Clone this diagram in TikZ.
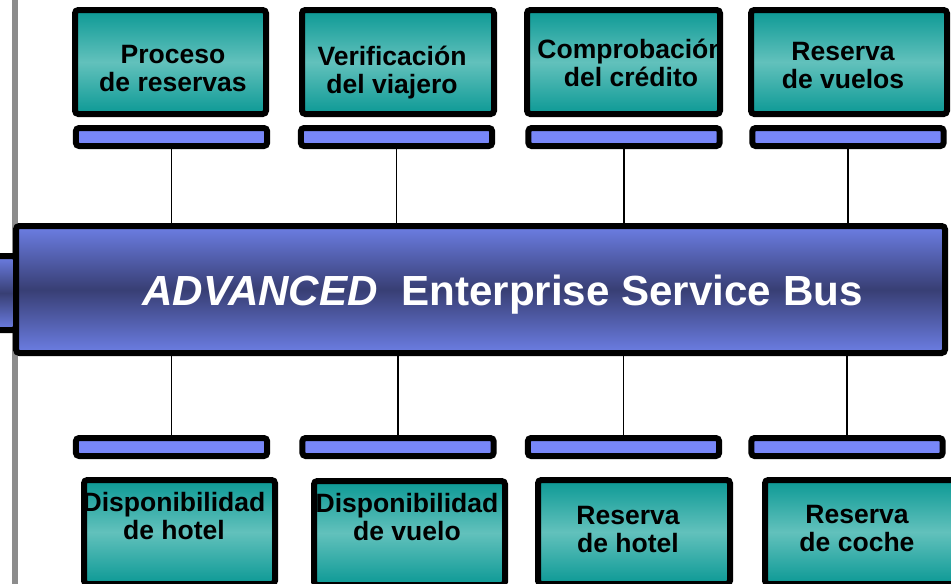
\documentclass[tikz,border=0pt]{standalone}
\usepackage{fontspec}
\setmainfont{Liberation Sans}

\definecolor{tealdark}{RGB}{12,153,149}
\definecolor{teallight}{RGB}{98,193,188}
\definecolor{busedge}{RGB}{108,126,228}
\definecolor{buscore}{RGB}{56,63,116}
\definecolor{barblue}{RGB}{120,135,248}
\definecolor{railgray}{RGB}{140,140,140}

\tikzset{
  frame/.style={draw=black, line width=4.5pt, rounded corners=2.5pt},
  servicebox/.style={rectangle, inner sep=0pt, outer sep=0pt,
    minimum height=78pt, rounded corners=2.5pt,
    top color=tealdark, bottom color=tealdark, middle color=teallight},
  portbar/.style={rectangle, inner sep=0pt, outer sep=0pt,
    minimum width=143.5pt, minimum height=13.5pt, rounded corners=2.5pt,
    fill=barblue, draw=black, line width=4.5pt},
  busbody/.style={rectangle, inner sep=0pt, outer sep=0pt, rounded corners=2.5pt,
    top color=busedge, bottom color=busedge, middle color=buscore,
    draw=black, line width=4.5pt},
  svclabel/.style={anchor=base, inner sep=0pt, text=black,
    font=\fontsize{19.9}{21.4}\selectfont\bfseries},
  wire/.style={draw=black, line width=1.2pt}
}

% one service: shaded box, clipped two-line label, frame on top
\newcommand{\servicebox}[6]{% name, x, y, width, label position, label text
  \node[servicebox, minimum width=#4] (#1) at (#2,#3) {};
  \begin{scope}
    \clip (#1.south west) rectangle (#1.north east);
    \node[svclabel] (#1txt) at (#5) {\begin{tabular}[t]{@{}c@{}}#6\end{tabular}};
  \end{scope}
  \draw[frame] (#1.south west) rectangle (#1.north east);
}

\begin{document}
\begin{tikzpicture}[x=0.75pt, y=-0.75pt]
  \useasboundingbox (0,0) rectangle (951,583);
  \clip (0,0) rectangle (951,583);

  % vertical rail at the left edge
  \draw[railgray, line width=3.8pt] (15,-5) -- (15,590);

  % stub entering the bus from the left
  \node[busbody, minimum width=19.5pt, minimum height=55.5pt] (stub) at (3,293) {};

  % the bus
  \node[busbody, minimum width=696.75pt, minimum height=95.25pt] (bus) at (480.5,289.5) {};
  \node[anchor=base west, inner sep=0pt, text=white,
        font=\fontsize{31.6}{36}\selectfont\bfseries] (bustxt) at (142,305)
        {\textit{ADVANCED}\hspace{0.556em}Enterprise Service Bus};

  % connector bars above the bus
  \node[portbar] (tbar1) at (171.5,137) {};
  \node[portbar] (tbar2) at (396.5,137) {};
  \node[portbar] (tbar3) at (624,137) {};
  \node[portbar] (tbar4) at (848,137) {};

  % connector bars below the bus
  \node[portbar] (bbar1) at (171.5,447) {};
  \node[portbar] (bbar2) at (398,447) {};
  \node[portbar] (bbar3) at (623.5,447) {};
  \node[portbar] (bbar4) at (847,447) {};

  % wires between bars and bus
  \foreach \i in {1,2,3,4} {
    \draw[wire] (tbar\i.south) -- (tbar\i.south |- bus.north);
    \draw[wire] (bbar\i.north) -- (bbar\i.north |- bus.south);
  }

  % services above
  \servicebox{t1}{170.5}{62}{143.25pt}{173,63}{Proceso\\de reservas}
  \servicebox{t2}{398}{62}{144pt}{392,65}{Verificación\\del viajero}
  \servicebox{t3}{623.5}{62}{144.75pt}{631,58}{Comprobación\\del crédito}
  \servicebox{t4}{849}{62}{147pt}{843,60}{Reserva\\de vuelos}

  % services below
  \servicebox{b1}{179.5}{532}{143.25pt}{174,511}{Disponibilidad\\de hotel}
  \servicebox{b2}{409.5}{533}{143.25pt}{407,512}{Disponibilidad\\de vuelo}
  \servicebox{b3}{634}{532}{144pt}{628,524}{Reserva\\de hotel}
  \servicebox{b4}{860.5}{532}{143.25pt}{857,523}{Reserva\\de coche}
\end{tikzpicture}
\end{document}
